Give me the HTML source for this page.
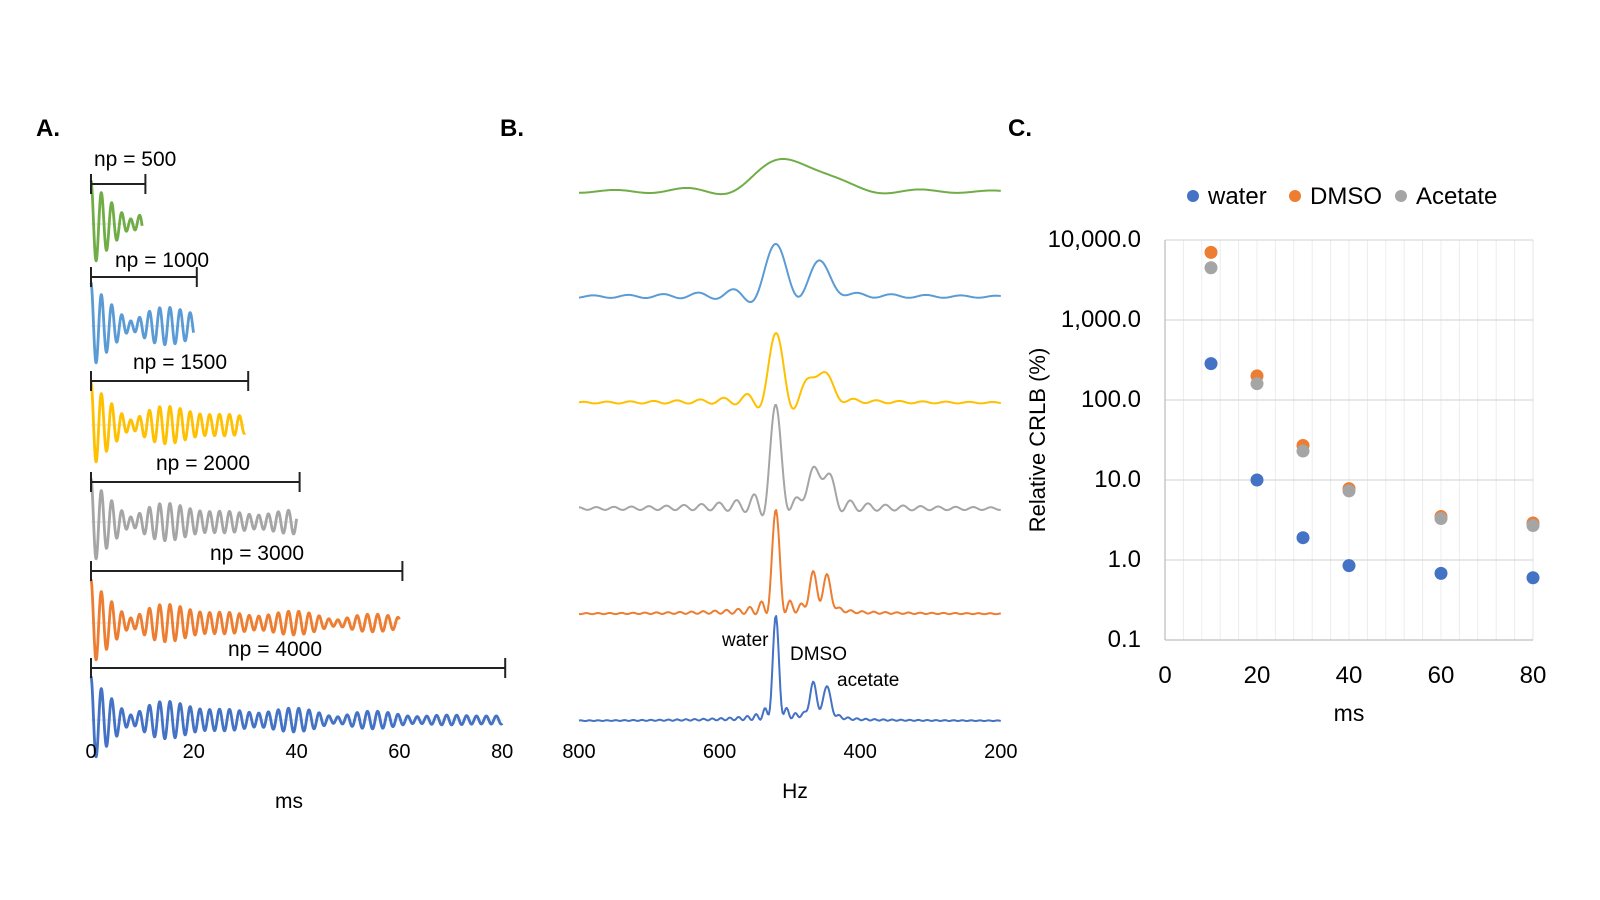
<!DOCTYPE html>
<html><head><meta charset="utf-8"><style>
html,body{margin:0;padding:0;background:#fff;}
svg{display:block;font-family:"Liberation Sans",sans-serif;}
</style></head><body>
<svg id="fig" width="1600" height="900" viewBox="0 0 1600 900">
<rect width="1600" height="900" fill="#fff"/>
<g id="pa"></g>
<g id="pb"></g>
<g id="pc"></g>
</svg>
<script>
// ---- Panel A/B data ----
const npLabels = ["np = 500","np = 1000","np = 1500","np = 2000","np = 3000","np = 4000"];
const durations = [10,20,30,40,60,80];           // ms
const traceColors = ["#70AD47","#5B9BD5","#FFC000","#A5A5A5","#ED7D31","#4472C4"];
const compFreq = [520,467,447,520];             // Hz
const compAmp = [1.0,0.42,0.4,0.6];
const compT2 = [50,35,35,1.5];                   // ms
const aTicks = [0,20,40,60,80];
const bTicks = [800,600,400,200];
// ---- Panel C data ----
const cTimes = [10,20,30,40,60,80];
const water = [285,10,1.9,0.85,0.68,0.6];
const dmso = [7000,200,27,7.8,3.5,2.9];
const acetate = [4500,160,23,7.3,3.3,2.7];
const cYTicks = [10000,1000,100,10,1,0.1];
const cYLabels = ["10,000.0","1,000.0","100.0","10.0","1.0","0.1"];
const cXTicks = [0,20,40,60,80];

const NS="http://www.w3.org/2000/svg";
function mk(tag,attrs,parent,txt){const e=document.createElementNS(NS,tag);for(const k in attrs)e.setAttribute(k,attrs[k]);if(txt!==undefined)e.textContent=txt;parent.appendChild(e);return e;}

function fid(t){let s=0;for(let k=0;k<compFreq.length;k++)s+=compAmp[k]*Math.exp(-t/compT2[k])*Math.cos(2*Math.PI*compFreq[k]*t/1000);return s;}

// ===== Panel A =====
const pa=document.getElementById('pa');
const ax=t=>91+t*5.14;
const fidBase=[224,326,425,522,623,720];
const bracketY=[184,277,381,482,571,668];
const labelPos=[[94,159],[115,260],[133,362],[156,463],[210,553],[228,649]];
let e=mk('text',{x:36,y:136,'font-size':24,'font-weight':'bold'},pa,'A.');


durations.forEach((d,i)=>{
  const g=mk('g',{},pa);
  
  
  mk('line',{x1:ax(0),x2:ax(d),y1:fidBase[i],y2:fidBase[i],stroke:'#ddd','stroke-width':1},g);
  let pts=[];
  for(let t=0;t<=d;t+=0.05){pts.push(ax(t).toFixed(2)+','+(fidBase[i]-18*fid(t)).toFixed(2));}
  mk('polyline',{points:pts.join(' '),fill:'none',stroke:traceColors[i],'stroke-width':2.8,'stroke-linejoin':'round'},g);
  const br=mk('g',{stroke:'#222','stroke-width':2},pa);
  
  
  const x2=ax(d*1.0)+3;
  mk('line',{x1:ax(0),x2:x2,y1:bracketY[i],y2:bracketY[i]},br);
  mk('line',{x1:ax(0),x2:ax(0),y1:bracketY[i]-10,y2:bracketY[i]+10},br);
  mk('line',{x1:x2,x2:x2,y1:bracketY[i]-10,y2:bracketY[i]+10},br);
  const l=mk('text',{x:labelPos[i][0],y:labelPos[i][1]+7,'font-size':21},pa,npLabels[i]);
  
  
});
aTicks.forEach(v=>{const t=mk('text',{x:ax(v),y:758,'font-size':20,'text-anchor':'middle'},pa,String(v));
  
  });
e=mk('text',{x:289,y:808,'font-size':21,'text-anchor':'middle'},pa,'ms');



// ===== Panel B =====
const pb=document.getElementById('pb');
const bx=f=>579+(800-f)*0.703;
const specBase=[192,297,403,509,614,721];
const specH=[33,53,70,104,104,105];
e=mk('text',{x:500,y:136,'font-size':24,'font-weight':'bold'},pb,'B.');


durations.forEach((d,i)=>{
  const dt=0.2, N=Math.round(d/dt);
  const sv=[];for(let n=0;n<=N;n++)sv.push(n*dt);
  const vals=[];
  for(let f=800;f>=200;f-=1.5){
    let re=0;
    for(let n=0;n<=N;n++){const t=sv[n];const w=(n===0)?0.5:1;
      for(let k=0;k<compFreq.length;k++)re+=w*compAmp[k]*Math.exp(-t/compT2[k])*Math.cos(2*Math.PI*(compFreq[k]-f)*t/1000);}
    vals.push([f,re]);
  }
  const mx=Math.max(...vals.map(v=>v[1]));
  const pts=vals.map(v=>bx(v[0]).toFixed(2)+','+(specBase[i]-specH[i]*v[1]/mx).toFixed(2));
  const p=mk('polyline',{points:pts.join(' '),fill:'none',stroke:traceColors[i],'stroke-width':2,'stroke-linejoin':'round'},pb);
  
  
});
bTicks.forEach(v=>{const t=mk('text',{x:bx(v),y:758,'font-size':20,'text-anchor':'middle'},pb,String(v));
  
  });
e=mk('text',{x:795,y:798,'font-size':21,'text-anchor':'middle'},pb,'Hz');


[['water',722,646],['DMSO',790,660],['acetate',837,686]].forEach(a=>{
  const t=mk('text',{x:a[1],y:a[2],'font-size':19},pb,a[0]);
  
  });

// ===== Panel C =====
const pc=document.getElementById('pc');
const L=1165,R=1533,T=240,B=640;
const cx=v=>L+(v/80)*(R-L);
const cy=v=>T+(4-Math.log10(v))*80;
e=mk('text',{x:1008,y:136,'font-size':24,'font-weight':'bold'},pc,'C.');


for(let v=4;v<80;v+=4){mk('line',{x1:cx(v),x2:cx(v),y1:T,y2:B,stroke:'#ececec','stroke-width':1},pc);}
mk('line',{x1:R,x2:R,y1:T,y2:B,stroke:'#e4e4e4','stroke-width':1},pc);
cYTicks.forEach((v,i)=>{
  mk('line',{x1:L,x2:R,y1:cy(v),y2:cy(v),stroke:i===5?'#bfbfbf':'#d9d9d9','stroke-width':1.3},pc);
  const t=mk('text',{x:1141,y:cy(v)+7,'font-size':24,'text-anchor':'end'},pc,cYLabels[i]);
  
  
});
mk('line',{x1:L,x2:L,y1:T,y2:B,stroke:'#bfbfbf','stroke-width':1.3},pc);
cXTicks.forEach(v=>{const t=mk('text',{x:cx(v),y:683,'font-size':24,'text-anchor':'middle'},pc,String(v));
  
  });
e=mk('text',{x:1349,y:721,'font-size':23,'text-anchor':'middle'},pc,'ms');


e=mk('text',{x:0,y:0,'font-size':22,'text-anchor':'middle',transform:'translate(1045,440) rotate(-90)'},pc,'Relative CRLB (%)');


const series=[['water',water,'#4472C4'],['DMSO',dmso,'#ED7D31'],['Acetate',acetate,'#A5A5A5']];
series.forEach(s=>{
  const g=mk('g',{},pc);
  
  
  s[1].forEach((v,i)=>{const c=mk('circle',{cx:cx(cTimes[i]),cy:cy(v),r:6.5,fill:s[2]},g);
    
    });
});
const legX=[1193,1295,1401];
series.forEach((s,i)=>{
  const g=mk('g',{},pc);
  
  
  mk('circle',{cx:legX[i],cy:196,r:6,fill:s[2]},g);
  mk('text',{x:legX[i]+15,y:204,'font-size':24},g,s[0]);
});
</script>
</body></html>
